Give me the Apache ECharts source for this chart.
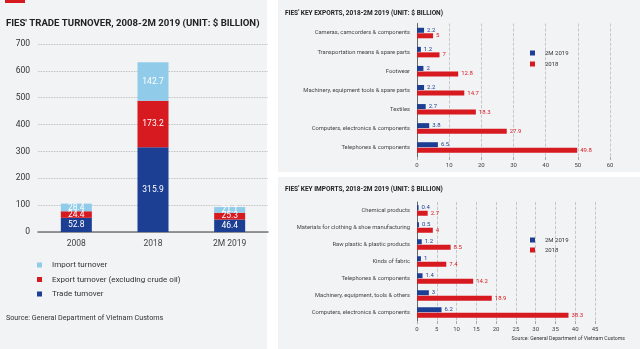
<!DOCTYPE html>
<html><head><meta charset="utf-8">
<script src="https://cdn.jsdelivr.net/npm/echarts@6/dist/echarts.min.js"></script>
<style>html,body{margin:0;padding:0;background:#fff}#c{width:640px;height:349px}</style>
</head><body><div id="c"></div>
<script>
// Left chart data
const years = ['2008', '2018', '2M 2019'];
const tradeTurnover = [52.8, 315.9, 46.4];
const exportTurnover = [24.4, 173.2, 25.3];
const importTurnover = [28.4, 142.7, 21.1];
const leftTicks = [0, 100, 200, 300, 400, 500, 600, 700];

// Key exports
const expCats = ['Cameras, camcorders & components', 'Transportation means & spare parts', 'Footwear', 'Machinery, equipment tools & spare parts', 'Textiles', 'Computers, electronics & components', 'Telephones & components'];
const exp2019 = [2.2, 1.2, 2, 2.2, 2.7, 3.8, 6.5];
const exp2018 = [5, 7, 12.8, 14.7, 18.3, 27.9, 49.8];

// Key imports
const impCats = ['Chemical products', 'Materials for clothing & shoe manufacturing', 'Raw plastic & plastic products', 'Kinds of fabric', 'Telephones & components', 'Machinery, equipment, tools & others', 'Computers, electronics & components'];
const imp2019 = [0.4, 0.5, 1.2, 1, 1.4, 3, 6.2];
const imp2018 = [2.7, 4, 8.5, 7.4, 14.2, 18.9, 38.3];

const BLUE = '#1d3f93', RED = '#d71920', LBLUE = '#91cbea', BG = '#f2f3f5';
const FONT = 'Roboto';

const chart = echarts.init(document.getElementById('c'), null, {renderer: 'canvas'});
const smallLbl = (color) => ({show: true, position: 'right', distance: 3, fontSize: 6, color: color, fontFamily: FONT});
const inLbl = {show: true, position: 'inside', color: '#fff', fontSize: 8.5, fontFamily: FONT};

chart.setOption({
  animation: false,
  textStyle: {fontFamily: FONT},
  graphic: [
    {type: 'rect', shape: {x: 0, y: 0, width: 267, height: 349}, style: {fill: BG}, z: -10},
    {type: 'rect', shape: {x: 278, y: 0, width: 362, height: 172}, style: {fill: BG}, z: -10},
    {type: 'rect', shape: {x: 278, y: 177, width: 362, height: 172}, style: {fill: BG}, z: -10},
    {type: 'rect', shape: {x: 5, y: 0, width: 20, height: 3}, style: {fill: RED}, z: 5},
    {type: 'text', left: 6, top: 315, style: {text: 'Source: General Department of Vietnam Customs', fontSize: 7.2, fill: '#333', fontFamily: FONT}},
    {type: 'text', right: 15, top: 336, style: {text: 'Source: General Department of Vietnam Customs', fontSize: 5.2, fill: '#333', fontFamily: FONT}}
  ],
  title: [
    {text: "FIES' TRADE TURNOVER, 2008-2M 2019 (UNIT: $ BILLION)", left: 6, top: 19, padding: 0, textStyle: {fontSize: 9.6, fontWeight: 'bold', color: '#222', fontFamily: FONT}},
    {text: "FIES' KEY EXPORTS, 2018-2M 2019 (UNIT: $ BILLION)", left: 285, top: 10, padding: 0, textStyle: {fontSize: 6.5, fontWeight: 'bold', color: '#222', fontFamily: FONT}},
    {text: "FIES' KEY IMPORTS, 2018-2M 2019 (UNIT: $ BILLION)", left: 285, top: 186, padding: 0, textStyle: {fontSize: 6.5, fontWeight: 'bold', color: '#222', fontFamily: FONT}}
  ],
  legend: [
    {left: 37, top: 261, padding: 0, orient: 'vertical', itemWidth: 5, itemHeight: 5, itemGap: 6.5, icon: 'rect',
     data: ['Import turnover', 'Export turnover (excluding crude oil)', 'Trade turnover'],
     textStyle: {fontSize: 8, color: '#333', fontFamily: FONT, padding: [0, 0, 0, 5]}},
    {left: 530, top: 50, padding: 0, orient: 'vertical', itemWidth: 5, itemHeight: 5, itemGap: 5, icon: 'rect',
     data: ['2M 2019', '2018'], textStyle: {fontSize: 6, color: '#333', fontFamily: FONT, padding: [0, 0, 0, 5]}},
    {left: 530, top: 237, padding: 0, orient: 'vertical', itemWidth: 5, itemHeight: 5, itemGap: 4, icon: 'rect',
     data: ['2M 2019', '2018'], textStyle: {fontSize: 6, color: '#333', fontFamily: FONT, padding: [0, 0, 0, 5]}}
  ],
  grid: [
    {left: 38, right: 372, top: 44, bottom: 117},
    {left: 417, right: 30, top: 23.5, bottom: 192},
    {left: 417, right: 45, top: 202, bottom: 28}
  ],
  xAxis: [
    {gridIndex: 0, type: 'category', data: years, axisTick: {show: false},
     axisLine: {lineStyle: {color: '#777', width: 1.5}},
     axisLabel: {fontSize: 8.5, color: '#444', margin: 7, fontFamily: FONT}},
    {gridIndex: 1, type: 'value', min: 0, max: 60, interval: 10,
     axisLine: {show: false}, axisTick: {show: true, length: 3, lineStyle: {color: '#aaa'}},
     splitLine: {show: true, lineStyle: {color: '#bbb', type: 'dashed', width: 0.8}},
     axisLabel: {fontSize: 6, color: '#444', margin: 5, fontFamily: FONT}},
    {gridIndex: 2, type: 'value', min: 0, max: 45, interval: 5,
     axisLine: {show: false}, axisTick: {show: true, length: 3, lineStyle: {color: '#aaa'}},
     splitLine: {show: true, lineStyle: {color: '#bbb', type: 'dashed', width: 0.8}},
     axisLabel: {fontSize: 6, color: '#444', margin: 5, fontFamily: FONT}}
  ],
  yAxis: [
    {gridIndex: 0, type: 'value', min: leftTicks[0], max: leftTicks[leftTicks.length - 1], interval: 100,
     axisLine: {show: false}, axisTick: {show: false},
     splitLine: {lineStyle: {color: '#aaa', type: 'dotted', width: 0.8}},
     axisLabel: {fontSize: 8.5, color: '#333', margin: 8, fontFamily: FONT}},
    {gridIndex: 1, type: 'category', data: expCats, inverse: true,
     axisLine: {lineStyle: {color: '#666', width: 1}}, axisTick: {show: false},
     axisLabel: {fontSize: 5.8, color: '#444', margin: 7, fontFamily: FONT}},
    {gridIndex: 2, type: 'category', data: impCats, inverse: true,
     axisLine: {lineStyle: {color: '#666', width: 1}}, axisTick: {show: false},
     axisLabel: {fontSize: 5.8, color: '#444', margin: 7, fontFamily: FONT}}
  ],
  series: [
    {name: 'Trade turnover', type: 'bar', stack: 't', xAxisIndex: 0, yAxisIndex: 0, data: tradeTurnover, barWidth: 31, itemStyle: {color: BLUE}, label: inLbl},
    {name: 'Export turnover (excluding crude oil)', type: 'bar', stack: 't', xAxisIndex: 0, yAxisIndex: 0, data: exportTurnover, itemStyle: {color: RED}, label: inLbl},
    {name: 'Import turnover', type: 'bar', stack: 't', xAxisIndex: 0, yAxisIndex: 0, data: importTurnover, itemStyle: {color: LBLUE}, label: inLbl},
    {name: '2M 2019', type: 'bar', xAxisIndex: 1, yAxisIndex: 1, data: exp2019, barWidth: 5, barGap: '10%', itemStyle: {color: BLUE}, label: smallLbl(BLUE)},
    {name: '2018', type: 'bar', xAxisIndex: 1, yAxisIndex: 1, data: exp2018, barWidth: 5, barGap: '10%', itemStyle: {color: RED}, label: smallLbl(RED)},
    {name: '2M 2019', type: 'bar', xAxisIndex: 2, yAxisIndex: 2, data: imp2019, barWidth: 5, barGap: '10%', itemStyle: {color: BLUE}, label: smallLbl(BLUE)},
    {name: '2018', type: 'bar', xAxisIndex: 2, yAxisIndex: 2, data: imp2018, barWidth: 5, barGap: '10%', itemStyle: {color: RED}, label: smallLbl(RED)}
  ]
});
</script></body></html>
